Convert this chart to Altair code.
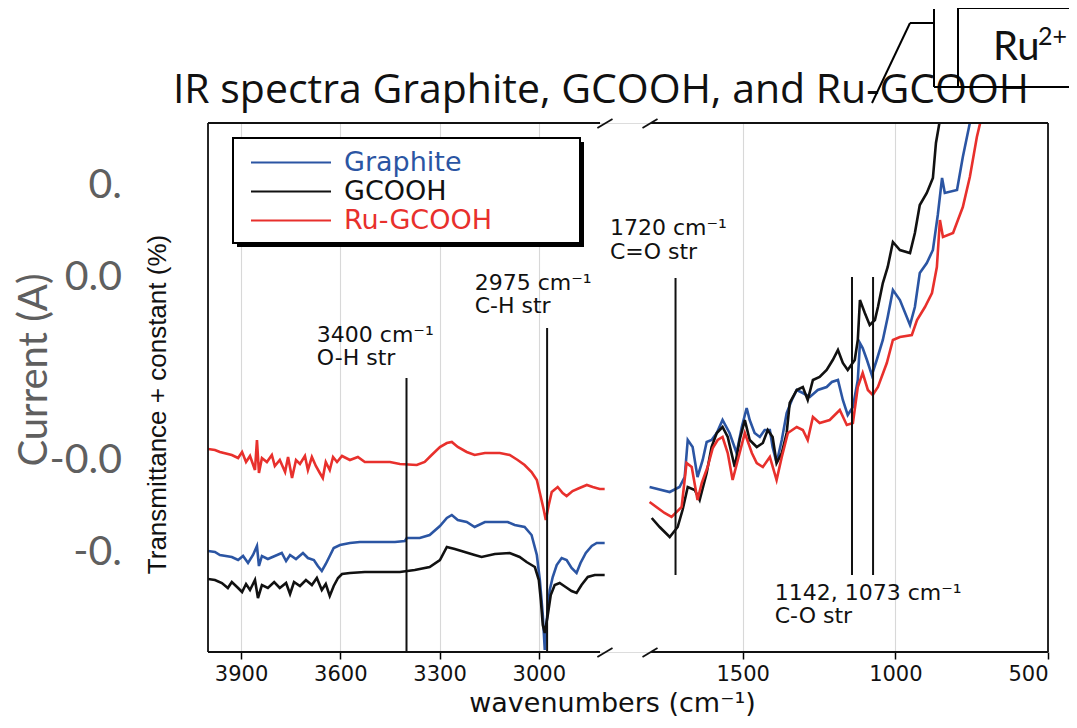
import altair as alt
import pandas as pd

# ---------------- data ----------------
series_names = ["Graphite", "GCOOH", "Ru-GCOOH"]
series_colors = ["#2b55a3", "#111111", "#e8302c"]

# high-wavenumber panel (4000-2800 cm-1)
graphite_hi_wn = [4000, 3979, 3964, 3928, 3909, 3894, 3879, 3864, 3852, 3846, 3837, 3819, 3798, 3777, 3764,
                  3752, 3734, 3713, 3698, 3680, 3668, 3656, 3644, 3632, 3620, 3601, 3571, 3541, 3526, 3435,
                  3405, 3399, 3360, 3330, 3299, 3278, 3263, 3245, 3218, 3194, 3163, 3094, 3073, 3043, 3022,
                  3006, 2997, 2988, 2982, 2976, 2967, 2958, 2946, 2931, 2916, 2901, 2886, 2874, 2858, 2840,
                  2825, 2801]
graphite_hi_t = [20.2, 20.0, 19.4, 19.0, 18.4, 19.2, 17.8, 19.4, 21.2, 17.2, 19.2, 18.6, 19.2, 19.8, 18.2,
                 19.4, 18.6, 19.8, 18.8, 18.4, 17.2, 16.2, 17.6, 19.2, 20.8, 21.4, 21.8, 22.0, 22.0, 22.0,
                 22.2, 22.8, 22.8, 23.4, 25.2, 26.8, 27.4, 26.4, 26.0, 25.0, 26.0, 26.0, 25.4, 25.0, 23.4,
                 19.4, 14.4, 7.4, 0.4, 6.4, 12.4, 15.0, 17.4, 18.8, 18.4, 16.8, 15.8, 17.8, 19.8, 21.2,
                 21.8, 21.8]

gcooh_hi_wn = [4000, 3979, 3958, 3940, 3928, 3909, 3897, 3885, 3873, 3858, 3849, 3837, 3819, 3800, 3783,
               3764, 3752, 3740, 3722, 3704, 3686, 3671, 3656, 3644, 3632, 3620, 3607, 3595, 3571, 3526,
               3420, 3375, 3330, 3299, 3278, 3254, 3224, 3194, 3173, 3133, 3088, 3058, 3037, 3012, 3000,
               2994, 2988, 2982, 2973, 2964, 2952, 2937, 2919, 2901, 2886, 2871, 2852, 2831, 2801]
gcooh_hi_t = [14.6, 14.4, 13.8, 12.8, 14.0, 12.8, 12.0, 13.6, 12.4, 14.4, 10.8, 13.4, 12.8, 14.0, 12.8,
              13.8, 11.6, 14.0, 13.2, 14.4, 13.4, 14.8, 12.4, 13.6, 11.2, 13.2, 14.8, 15.6, 15.8, 16.0,
              16.0, 16.4, 17.0, 18.4, 21.0, 20.6, 20.0, 19.4, 19.0, 19.6, 19.8, 19.0, 18.0, 17.0, 14.4,
              10.4, 5.4, 3.8, 7.4, 11.4, 13.4, 13.8, 13.0, 12.2, 11.8, 13.4, 15.0, 15.4, 15.4]

ru_hi_wn = [4000, 3979, 3964, 3928, 3909, 3897, 3885, 3873, 3858, 3852, 3846, 3837, 3822, 3807, 3798,
            3783, 3767, 3758, 3746, 3734, 3722, 3707, 3698, 3686, 3674, 3662, 3653, 3644, 3632, 3622,
            3610, 3595, 3571, 3547, 3526, 3450, 3420, 3369, 3345, 3324, 3299, 3278, 3263, 3245, 3218,
            3194, 3163, 3118, 3088, 3064, 3043, 3022, 3006, 2994, 2985, 2979, 2970, 2961, 2943, 2928,
            2916, 2898, 2877, 2855, 2837, 2816, 2801]
ru_hi_t = [40.6, 40.4, 40.0, 39.4, 38.8, 40.0, 38.0, 39.2, 36.4, 42.4, 35.8, 38.8, 38.0, 39.4, 37.2,
           38.4, 36.0, 39.0, 34.8, 38.4, 37.6, 39.2, 36.4, 39.0, 37.2, 35.8, 34.8, 38.0, 36.4, 39.0,
           38.0, 39.2, 38.4, 39.0, 38.0, 38.0, 37.6, 37.4, 38.0, 39.4, 41.0, 41.8, 42.0, 41.0, 40.0,
           39.4, 39.8, 39.8, 39.4, 38.4, 37.4, 36.0, 34.4, 31.0, 28.4, 26.4, 29.4, 32.0, 33.0, 31.8,
           31.2, 32.2, 32.8, 33.4, 33.0, 32.6, 32.6]

# low-wavenumber panel (1820-500 cm-1)
graphite_lo_wn = [1805, 1739, 1707, 1690, 1680, 1664, 1648, 1631, 1618, 1602, 1585, 1566, 1543, 1520, 1503,
                  1487, 1477, 1461, 1444, 1428, 1411, 1402, 1389, 1372, 1356, 1339, 1323, 1303, 1280, 1254,
                  1225, 1208, 1188, 1172, 1156, 1139, 1123, 1116, 1107, 1093, 1077, 1061, 1041, 1025, 1008,
                  985, 952, 936, 920, 897, 877, 861, 847, 838, 798, 779, 756, 739]
graphite_lo_t = [33.0, 32.0, 33.0, 35.0, 42.4, 41.0, 35.0, 38.4, 42.0, 42.4, 43.8, 46.4, 43.8, 39.8, 45.0,
                 48.8, 46.4, 43.8, 43.0, 44.4, 44.4, 41.0, 37.8, 42.4, 47.8, 50.4, 52.4, 51.8, 51.0, 52.4,
                 53.0, 54.0, 54.4, 50.4, 47.4, 49.0, 54.4, 61.8, 60.8, 58.4, 55.4, 58.4, 62.4, 67.0, 72.4,
                 70.4, 65.4, 69.0, 75.8, 77.8, 80.4, 87.4, 94.8, 91.8, 92.4, 99.0, 105.8, 108.8]

gcooh_lo_wn = [1798, 1772, 1739, 1713, 1697, 1680, 1657, 1641, 1618, 1602, 1585, 1566, 1549, 1526, 1510,
               1493, 1477, 1454, 1434, 1418, 1402, 1389, 1372, 1356, 1346, 1323, 1303, 1287, 1270, 1248,
               1225, 1205, 1188, 1172, 1156, 1133, 1123, 1116, 1100, 1084, 1067, 1057, 1041, 1025, 1008,
               985, 952, 936, 920, 897, 877, 867, 854, 844]
gcooh_lo_t = [26.8, 25.0, 23.0, 25.0, 28.4, 33.0, 32.4, 30.4, 35.8, 41.0, 43.8, 45.0, 43.0, 37.0, 42.4,
              46.4, 42.4, 41.0, 41.8, 44.4, 43.0, 37.8, 39.8, 43.8, 49.8, 52.4, 53.0, 50.4, 54.4, 55.0,
              56.4, 58.4, 60.4, 57.8, 56.4, 58.4, 62.4, 70.4, 67.8, 65.4, 66.4, 69.0, 73.8, 77.0, 82.0,
              80.4, 79.8, 83.8, 89.4, 91.8, 94.8, 101.8, 106.4, 109.4]

ru_lo_wn = [1805, 1756, 1733, 1700, 1684, 1667, 1648, 1634, 1615, 1598, 1582, 1566, 1549, 1533, 1516,
            1493, 1470, 1454, 1434, 1411, 1389, 1372, 1352, 1323, 1303, 1287, 1270, 1248, 1215, 1182,
            1159, 1139, 1123, 1107, 1090, 1074, 1057, 1028, 1008, 985, 946, 929, 903, 880, 864,
            854, 844, 811, 795, 779, 756, 733, 716]
ru_lo_t = [30.0, 27.8, 27.0, 29.0, 37.8, 37.0, 30.4, 33.8, 37.0, 40.8, 42.4, 43.0, 39.8, 34.4, 38.4,
           43.8, 39.8, 37.8, 37.0, 39.0, 34.4, 39.0, 43.8, 45.0, 44.4, 42.4, 47.0, 45.8, 46.4, 48.4,
           45.4, 45.8, 53.0, 55.8, 52.4, 51.4, 53.0, 57.8, 62.4, 63.0, 63.4, 66.4, 69.0, 71.8, 77.0,
           86.4, 83.0, 83.8, 86.4, 89.0, 95.0, 103.0, 107.4]

tick_values = [3900, 3600, 3300, 3000, 1500, 1000, 500]

# assigned bands (vertical marker lines)
band_wn = [3400, 2975, 1720, 1142, 1073]
band_lo = [0.0, 0.0, 15.4, 15.4, 15.4]
band_hi = [54.8, 64.8, 74.8, 75.0, 75.0]

# band labels
label_text = ["3400 cm⁻¹", "O-H str", "2975 cm⁻¹", "C-H str", "1720 cm⁻¹", "C=O str",
              "1142, 1073 cm⁻¹", "C-O str"]
label_wn = [3671, 3671, 3194, 3194, 2680, 2680, 1395, 1395]
label_t = [62.0, 57.4, 72.4, 67.8, 83.4, 78.6, 10.4, 5.8]

# ---------------- build tables ----------------
rows = []
for name, seg, wns, ts in [
    ("Graphite", "hi", graphite_hi_wn, graphite_hi_t),
    ("Graphite", "lo", graphite_lo_wn, graphite_lo_t),
    ("GCOOH", "hi", gcooh_hi_wn, gcooh_hi_t),
    ("GCOOH", "lo", gcooh_lo_wn, gcooh_lo_t),
    ("Ru-GCOOH", "hi", ru_hi_wn, ru_hi_t),
    ("Ru-GCOOH", "lo", ru_lo_wn, ru_lo_t),
]:
    for w, t in zip(wns, ts):
        rows.append({"series": name, "segment": name + seg, "wn": w, "t": t})
spectra = pd.DataFrame(rows)
bands = pd.DataFrame({"wn": band_wn, "lo": band_lo, "hi": band_hi})
labels = pd.DataFrame({"wn": label_wn, "t": label_t, "text": label_text})
one = pd.DataFrame({"k": [0]})

W, H = 840, 529
x_scale = alt.Scale(domain=[4000, 2800, 1820, 500], range=[0, 397, 437, W], nice=False, zero=False)
y_scale = alt.Scale(domain=[0, 105.8], nice=False, zero=False)
FIG_FONT = "DejaVu Sans"
SLIDE_FONT = "Lato"
GREY = "#5f5f5f"

x_axis = alt.Axis(values=tick_values, format="d", title="wavenumbers (cm⁻¹)", grid=True,
                  gridColor="#d8d8d8", gridWidth=1.1, domain=False, ticks=True, tickColor="#000",
                  tickSize=7, tickWidth=1.5, labelFont=FIG_FONT, labelFontSize=21, labelColor="#111",
                  labelPadding=4, titleFont=FIG_FONT, titleFontSize=27, titleFontWeight="normal",
                  titleColor="#111", titleX=404, titlePadding=6)
y_axis = alt.Axis(title="Transmittance + constant (%)", labels=False, ticks=False, domain=False,
                  grid=False, titleFont="Liberation Sans Narrow, Liberation Sans", titleFontSize=26,
                  titleFontWeight="normal", titleColor="#111", titlePadding=38, titleY=281)

legend = alt.Legend(
    title=None, orient="none", legendX=42, legendY=25, direction="vertical",
    symbolType="stroke", symbolSize=6400, symbolStrokeWidth=2, clipHeight=29, rowPadding=0,
    padding=0, labelFont=FIG_FONT, labelFontSize=27, labelOffset=12, labelLimit=500,
    labelColor=alt.ExprRef(expr="datum.label == 'Graphite' ? '#2b55a3' : (datum.label == 'Ru-GCOOH' ? '#e8302c' : '#111111')"),
)

# legend frame with drop shadow
shadow = alt.Chart(one).mark_rect(color="#000").encode(
    x=alt.value(29), y=alt.value(19), x2=alt.value(376), y2=alt.value(124))
box = alt.Chart(one).mark_rect(fill="white", stroke="#000", strokeWidth=2).encode(
    x=alt.value(25), y=alt.value(15), x2=alt.value(372), y2=alt.value(120))

lines = alt.Chart(spectra).mark_line(strokeWidth=2.6, clip=True).encode(
    x=alt.X("wn:Q", scale=x_scale, axis=x_axis),
    y=alt.Y("t:Q", scale=y_scale, axis=y_axis),
    color=alt.Color("series:N", scale=alt.Scale(domain=series_names, range=series_colors), legend=legend),
    detail="segment:N",
    order=alt.Order("wn:Q"),
)

band_rules = alt.Chart(bands).mark_rule(color="#111", strokeWidth=2).encode(
    x="wn:Q", y="lo:Q", y2="hi:Q")

band_text = alt.Chart(labels).mark_text(align="left", baseline="alphabetic", font=FIG_FONT,
                                        fontSize=22, color="#111").encode(
    x="wn:Q", y="t:Q", text="text:N")

# plot frame (broken axis)
def seg(x1, x2, y1, y2):
    return alt.Chart(one).mark_rule(color="#111", strokeWidth=1.8).encode(
        x=alt.datum(x1), x2=alt.datum(x2), y=alt.datum(y1), y2=alt.datum(y2))

frame = [
    seg(4000, 4000, 0, 105.8), seg(500, 500, 0, 105.8),
    seg(4000, 2815, 0, 0), seg(4000, 2815, 105.8, 105.8),
    seg(1800, 500, 0, 0), seg(1800, 500, 105.8, 105.8),
]

def slash(x1, x2, ya, yb):
    return alt.Chart(one).mark_rule(color="#111", strokeWidth=1.8).encode(
        x=alt.datum(x1), x2=alt.datum(x2), y=alt.value(ya), y2=alt.value(yb))

slashes = [slash(2823, 2616, H + 5, H - 4), slash(1881, 1779, H + 5, H - 4),
           slash(2823, 2616, 5, -4), slash(1881, 1779, 5, -4)]

# slide overlay texts
def vtext(txt, x, y, size, color="#111", align="left", angle=0, font=SLIDE_FONT):
    return alt.Chart(one).mark_text(text=txt, align=align, baseline="alphabetic", font=font,
                                    fontSize=size, color=color, angle=angle).encode(
        x=alt.value(x), y=alt.value(y))

title = vtext("IR spectra Graphite, GCOOH, and Ru-GCOOH", 393, -20, 41, align="center",
              font="Open Sans")
current = alt.Chart(one).mark_text(text="Current (A)", align="center", baseline="middle",
                                   font=SLIDE_FONT, fontSize=40, color=GREY, angle=270).encode(
    x=alt.value(-173), y=alt.value(247))
ticks_overlay = [vtext("0.", -86, 75, 41, GREY, "right"),
                 vtext("0.0", -86, 167, 41, GREY, "right"),
                 vtext("-0.0", -86, 350, 41, GREY, "right"),
                 vtext("-0.", -86, 442, 41, GREY, "right")]

def pline(x1, y1, x2, y2):
    return alt.Chart(one).mark_rule(color="#000", strokeWidth=2).encode(
        x=alt.value(x1), y=alt.value(y1), x2=alt.value(x2), y2=alt.value(y2))

ru_box = [pline(726, -114, 726, -36), pline(702, -100, 726, -100), pline(702, -100, 664, -20),
          pline(750, -115, 870, -115), pline(750, -115, 750, -36), pline(726, -36, 870, -36)]
ru_text = [vtext("Ru", 785, -63, 40), vtext("2+", 830, -78, 25)]

chart = alt.layer(
    lines, band_rules, band_text, *frame, *slashes, shadow, box,
    title, current, *ticks_overlay, *ru_box, *ru_text,
).properties(
    width=W, height=H,
    autosize=alt.AutoSizeParams(type="none"),
    padding={"left": 200, "top": 115, "right": 21, "bottom": 68},
).configure_view(strokeWidth=0).configure(background="white")

chart.save("out.html", embed_options={"renderer": "svg", "actions": False})
